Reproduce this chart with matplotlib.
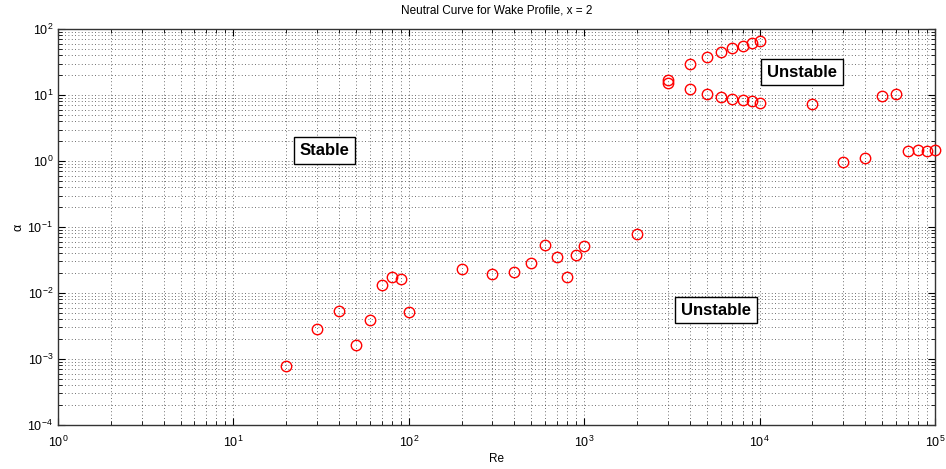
import matplotlib
matplotlib.use("Agg")
import matplotlib.pyplot as plt
from matplotlib.ticker import LogLocator, NullFormatter

plt.rcParams['font.family'] = ['Liberation Sans', 'DejaVu Sans']
plt.rcParams['mathtext.fontset'] = 'custom'
plt.rcParams['mathtext.rm'] = 'Liberation Sans'

# Neutral-curve points (Re, alpha)
re_values = [20, 30, 40, 50, 60, 70, 80, 90, 100,
             200, 300, 400, 500, 600, 700, 800, 900, 1000, 2000,
             3000, 3000, 4000, 4000, 5000, 5000, 6000, 6000, 7000, 7000,
             8000, 8000, 9000, 9000, 10000, 10000,
             20000, 30000, 40000, 50000, 60000, 70000, 80000, 90000, 100000]
alpha_values = [7.9e-4, 2.85e-3, 5.3e-3, 1.6e-3, 3.9e-3, 0.0134, 0.0177, 0.0163, 5.2e-3,
                0.0229, 0.0192, 0.0205, 0.0282, 0.054, 0.035, 0.0177, 0.038, 0.052, 0.079,
                17.2, 15.4, 29.5, 12.3, 37.6, 10.3, 44.8, 9.3, 51.5, 8.7,
                55.0, 8.4, 61.0, 8.1, 65.8, 7.6,
                7.4, 0.97, 1.11, 9.7, 10.4, 1.42, 1.47, 1.42, 1.47]

region_labels = ["Stable", "Unstable", "Unstable"]
label_re = [33, 17500, 5650]
label_alpha = [1.45, 22.3, 5.5e-3]

fig = plt.figure(figsize=(9.46, 4.69), dpi=100)
ax = fig.add_axes([0.0613, 0.094, 0.927, 0.844])

ax.loglog(re_values, alpha_values, linestyle='none', marker='o',
          markersize=7.5, markerfacecolor='none', markeredgecolor='red',
          markeredgewidth=1.0, clip_on=False, zorder=4)

ax.set_xlim(1, 1e5)
ax.set_ylim(1e-4, 1e2)
ax.xaxis.set_major_locator(LogLocator(base=10, numticks=10))
ax.yaxis.set_major_locator(LogLocator(base=10, numticks=10))
ax.xaxis.set_minor_locator(LogLocator(base=10, subs=range(2, 10), numticks=20))
ax.yaxis.set_minor_locator(LogLocator(base=10, subs=range(2, 10), numticks=20))
ax.xaxis.set_minor_formatter(NullFormatter())
ax.yaxis.set_minor_formatter(NullFormatter())

grid_style = dict(color='black', linestyle=(0, (1, 3)), linewidth=0.6, alpha=0.75)
ax.grid(True, which='major', **grid_style)
ax.grid(True, which='minor', **grid_style)

ax.tick_params(which='both', direction='in', top=True, right=True,
               labelsize=9, colors='black')
ax.tick_params(which='major', length=5, width=0.8)
ax.tick_params(which='minor', length=3, width=0.6)
ax.tick_params(axis='x', pad=7)
for s in ax.spines.values():
    s.set_linewidth(1.0)
    s.set_color('#333333')

ax.set_title("Neutral Curve for Wake Profile, x = 2", fontsize=8.5, pad=11)
ax.set_xlabel("Re", fontsize=8.5, labelpad=2)
ax.set_ylabel("α", fontsize=9, labelpad=2)

for txt, rx, ay in zip(region_labels, label_re, label_alpha):
    ax.text(rx, ay, txt, fontsize=12, fontweight='bold', ha='center', va='center',
            bbox=dict(boxstyle='square,pad=0.35', facecolor='white',
                      edgecolor='black', linewidth=1.0), zorder=5)

fig.savefig("out.png", dpi=100)
